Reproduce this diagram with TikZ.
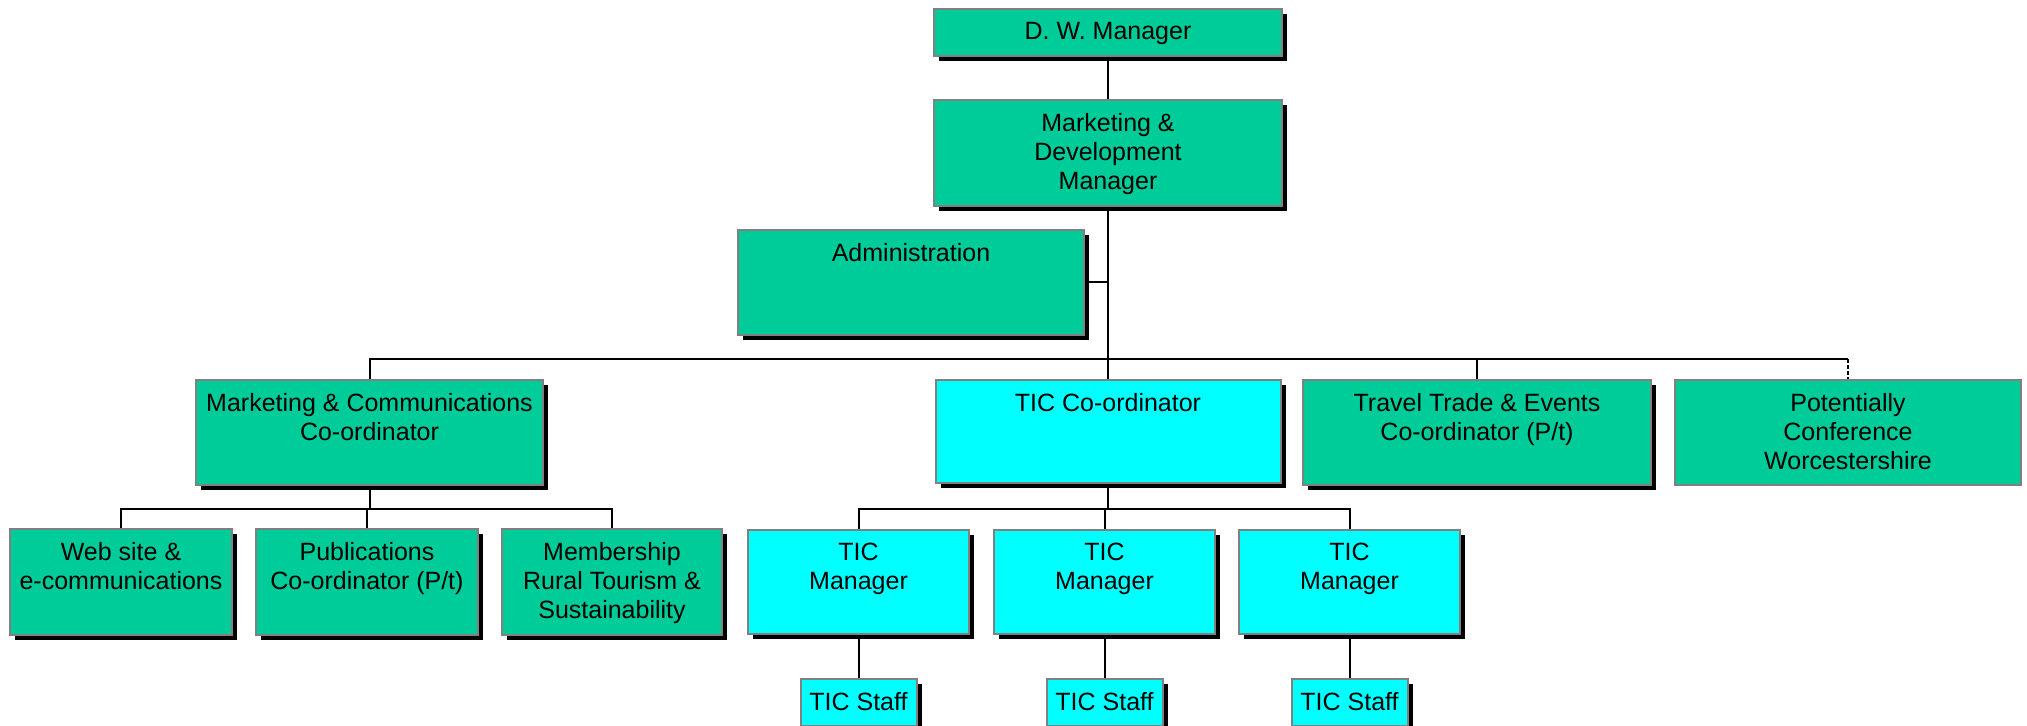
\documentclass[tikz,border=0pt]{standalone}
\usepackage{fontspec}
\setmainfont{Liberation Sans}
\usetikzlibrary{shadows}

\definecolor{orggreen}{RGB}{0,204,153}
\definecolor{orgcyan}{RGB}{0,255,255}
\definecolor{framegray}{RGB}{128,128,128}

\newlength{\pix}
\setlength{\pix}{0.5pt}

\tikzset{
  unit/.style n args={3}{draw=framegray, line width=1pt, fill=#3, inner sep=0pt,
    execute at begin node={\begin{minipage}[c][#2\pix][t]{#1\pix}%
      \fontsize{12.5pt}{14.5pt}\selectfont\centering\vspace{6.5pt}},
    execute at end node={\end{minipage}}},
  unitsh/.style n args={3}{unit={#1}{#2}{#3},
    drop shadow={shadow xshift=2.5pt, shadow yshift=-2.5pt, fill=black, opacity=1}},
  link/.style={draw=black, line width=1pt}
}

\begin{document}
\begin{tikzpicture}[x=0.5pt, y=-0.5pt]
  \useasboundingbox (0,0) rectangle (2027,726);

  \def \Units {
    dw/1108/32.5/348/47/orggreen/{D. W. Manager},
    md/1108/153/348/106/orggreen/{Marketing \&\\Development\\Manager},
    admin/911/282.5/346/105/orggreen/{Administration},
    mc/369.5/432.5/347/105/orggreen/{Marketing \& Communications\\Co-ordinator},
    tic/1108/431.5/345/103/orgcyan/{TIC Co-ordinator},
    travel/1477/432.5/348/105/orggreen/{Travel Trade \& Events\\Co-ordinator (P/t)},
    web/121/582/222/106/orggreen/{Web site \&\\e-communications},
    pub/367/582/222/106/orggreen/{Publications\\Co-ordinator (P/t)},
    memb/612/582/220/106/orggreen/{Membership\\Rural Tourism \&\\Sustainability}}

  \foreach \id / \x / \y / \w / \h / \col / \txt in \Units {
    \node[unitsh={\w}{\h}{\col}] (\id) at (\x, \y) {\txt};
  }
  \node[unit={346}{105}{orggreen}] (pot) at (1848, 432.5)
    {Potentially\\Conference\\Worcestershire};

  % TIC managers and their staff
  \foreach \i / \x in {1/858.5, 2/1104.5, 3/1349.5} {
    \node[unitsh={221}{104}{orgcyan}] (mgr\i) at (\x, 582) {TIC\\Manager};
    \node[unitsh={116}{47}{orgcyan}] (staff\i) at (\x, 702.5) {TIC Staff};
  }

  \coordinate (bus) at (0, 359);
  \coordinate (subbus) at (0, 509);

  \draw[link] (dw) -- (md);
  \draw[link] (admin.east) -- (admin.east -| md.south);
  \foreach \c in {mc, tic, travel} {
    \draw[link] (md.south) |- (\c.north |- bus) -- (\c.north);
  }
  \draw[link] (md.south) |- (pot.north |- bus);
  \draw[link, dash pattern=on 2pt off 1pt] (pot.north |- bus) -- (pot.north);

  \foreach \c in {web, pub, memb} {
    \draw[link] (mc.south) |- (\c.north |- subbus) -- (\c.north);
  }
  \foreach \i in {1,2,3} {
    \draw[link] (tic.south) |- (mgr\i.north |- subbus) -- (mgr\i.north);
    \draw[link] (mgr\i) -- (staff\i);
  }
\end{tikzpicture}
\end{document}
